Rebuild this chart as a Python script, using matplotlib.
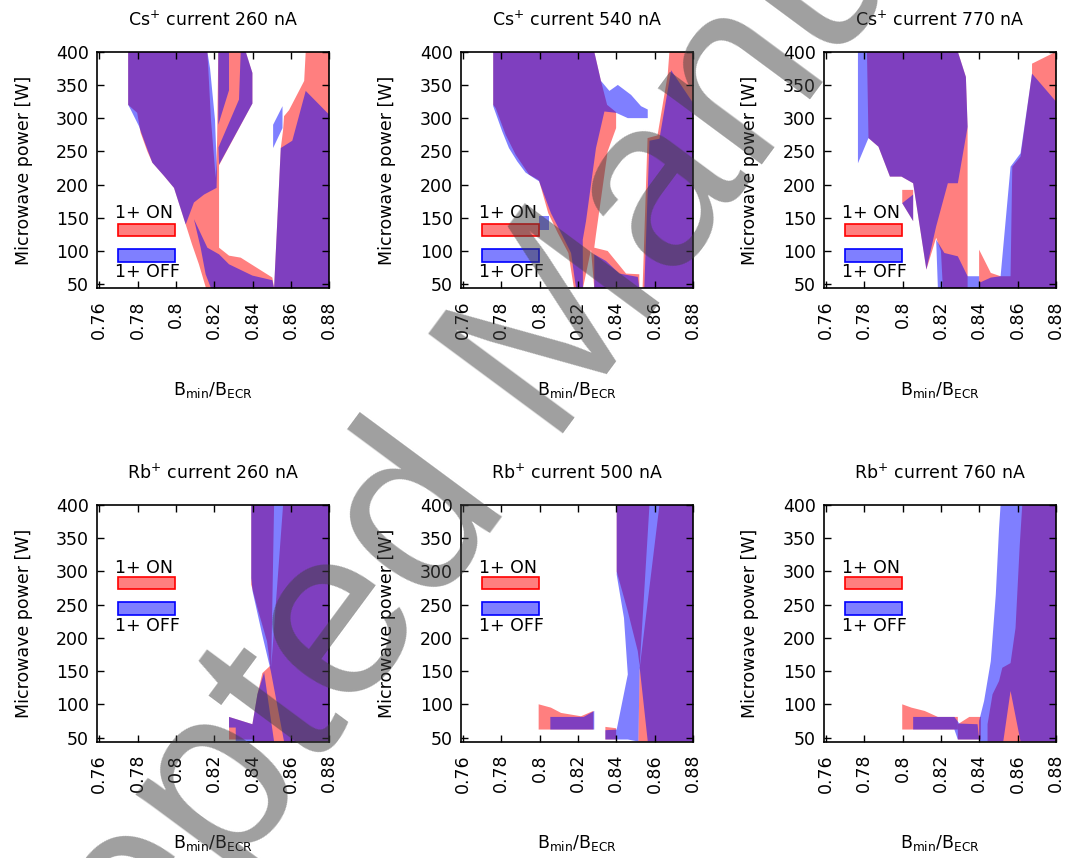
import matplotlib
matplotlib.use("Agg")
import matplotlib.pyplot as plt
from matplotlib.patches import Rectangle

# ---------------- data ----------------
x_ticks = [0.76, 0.78, 0.80, 0.82, 0.84, 0.86, 0.88]
x_tick_labels = ["0.76", "0.78", "0.8", "0.82", "0.84", "0.86", "0.88"]
y_ticks = [50, 100, 150, 200, 250, 300, 350, 400]

titles = ["Cs$^{+}$ current 260 nA", "Cs$^{+}$ current 540 nA", "Cs$^{+}$ current 770 nA",
          "Rb$^{+}$ current 260 nA", "Rb$^{+}$ current 500 nA", "Rb$^{+}$ current 760 nA"]

# each region: list of (B_min/B_ECR, microwave power [W]) vertices
cs260_on = [
    [(0.7751, 400), (0.8164, 400), (0.8183, 297), (0.8204, 222), (0.8209, 210), (0.8215, 268),
     (0.8221, 400), (0.8364, 400), (0.8399, 368), (0.8399, 322), (0.8225, 229), (0.8225, 105),
     (0.8277, 93), (0.8338, 90), (0.8503, 60), (0.8512, 44), (0.8157, 44), (0.8120, 80),
     (0.8084, 110), (0.8051, 140), (0.7990, 195), (0.7938, 213), (0.7877, 233), (0.7851, 250),
     (0.7816, 278), (0.7798, 308), (0.7751, 320)],
    [(0.8677, 400), (0.88, 400), (0.88, 44), (0.8512, 44), (0.8547, 255), (0.8559, 282),
     (0.8564, 303), (0.8590, 312), (0.8669, 356)],
]
cs260_off = [
    [(0.7751, 400), (0.8164, 400), (0.8178, 375), (0.8204, 297), (0.8214, 220), (0.8212, 195),
     (0.8147, 185), (0.8094, 173), (0.8059, 146), (0.8051, 140), (0.7990, 195), (0.7938, 213),
     (0.7877, 233), (0.7842, 260), (0.7807, 288), (0.7764, 313), (0.7751, 320)],
    [(0.8221, 400), (0.8277, 400), (0.8277, 342), (0.8221, 290)],
    [(0.8338, 400), (0.8364, 400), (0.8399, 368), (0.8399, 322), (0.8225, 230), (0.8222, 256),
     (0.8329, 328)],
    [(0.8094, 148), (0.8164, 105), (0.8225, 95), (0.8277, 80), (0.8399, 63), (0.8503, 56),
     (0.8512, 44), (0.8183, 44), (0.8155, 65), (0.8129, 105)],
    [(0.8512, 44), (0.8547, 255), (0.8607, 266), (0.8677, 341), (0.88, 305), (0.88, 44)],
    [(0.8507, 290), (0.8556, 318), (0.8556, 285), (0.8507, 255)],
]

cs540_on = [
    [(0.7758, 400), (0.8285, 400), (0.8320, 356), (0.8352, 320), (0.8399, 309), (0.8399, 285),
     (0.8355, 250), (0.8294, 125), (0.8285, 105), (0.8355, 100), (0.8451, 66), (0.8520, 65),
     (0.8520, 44), (0.8285, 44), (0.8268, 102), (0.8226, 44), (0.8179, 44), (0.8150, 97),
     (0.8095, 127), (0.8045, 157), (0.7997, 206), (0.7988, 208), (0.7945, 215), (0.7875, 245),
     (0.7823, 275), (0.7771, 315), (0.7758, 320)],
    [(0.8677, 400), (0.88, 400), (0.88, 44), (0.8537, 44), (0.8563, 270), (0.8615, 274),
     (0.8668, 365)],
]
cs540_off = [
    [(0.7758, 400), (0.8285, 400), (0.8320, 356), (0.8364, 341), (0.8408, 350), (0.8477, 335),
     (0.8529, 318), (0.8564, 313), (0.8564, 300), (0.8460, 300), (0.8399, 308), (0.8338, 310),
     (0.8294, 255), (0.8242, 145), (0.8225, 117), (0.8226, 44), (0.8190, 44), (0.8164, 97),
     (0.8112, 127), (0.8059, 157), (0.7997, 205), (0.7980, 208), (0.7927, 218), (0.7883, 235),
     (0.7840, 255), (0.7805, 280), (0.7758, 318)],
    [(0.8285, 95), (0.8346, 85), (0.8416, 66), (0.8512, 61), (0.8520, 44), (0.8285, 44)],
    [(0.7997, 152), (0.8049, 152), (0.8049, 132), (0.7997, 132)],
    [(0.8686, 372), (0.88, 323), (0.88, 44), (0.8546, 44), (0.8573, 266), (0.8625, 269)],
]

cs770_on = [
    [(0.7814, 400), (0.8288, 400), (0.8330, 362), (0.8339, 287), (0.8339, 44), (0.8210, 44),
     (0.8200, 100), (0.8175, 120), (0.8124, 72), (0.8055, 202), (0.7994, 212), (0.7934, 212),
     (0.7874, 257), (0.7822, 270)],
    [(0.7998, 192), (0.8055, 192), (0.8055, 145), (0.7998, 172)],
    [(0.8399, 102), (0.8460, 67), (0.8511, 62), (0.8563, 62), (0.8572, 227), (0.8615, 242),
     (0.8675, 367), (0.8675, 382), (0.88, 400), (0.88, 44), (0.8399, 44)],
]
cs770_off = [
    [(0.7767, 400), (0.8288, 400), (0.8330, 362), (0.8339, 287), (0.8288, 202), (0.8236, 202),
     (0.8175, 137), (0.8124, 72), (0.8055, 202), (0.7994, 212), (0.7934, 212), (0.7874, 257),
     (0.7822, 270), (0.7767, 232)],
    [(0.7998, 172), (0.8055, 185), (0.8055, 145)],
    [(0.8175, 117), (0.8218, 97), (0.8288, 92), (0.8339, 62), (0.8399, 62), (0.8399, 44),
     (0.8184, 44)],
    [(0.8399, 44), (0.8399, 52), (0.8460, 60), (0.8511, 62), (0.8563, 227), (0.8615, 247),
     (0.8675, 367), (0.88, 325), (0.88, 44)],
]

rb260_on = [
    [(0.8393, 400), (0.8512, 400), (0.8497, 156), (0.8559, 400), (0.88, 400), (0.88, 44),
     (0.8408, 44), (0.8399, 47), (0.8277, 47), (0.8277, 81), (0.8399, 70), (0.8425, 115),
     (0.8451, 147), (0.8492, 158), (0.8475, 195), (0.8425, 245), (0.8393, 280)],
]
rb260_off = [
    [(0.8393, 400), (0.88, 400), (0.88, 44), (0.8564, 44), (0.8495, 150), (0.8450, 205),
     (0.8400, 270), (0.8393, 290)],
    [(0.8512, 44), (0.8460, 148), (0.8425, 115), (0.8399, 70), (0.8277, 81), (0.8277, 65),
     (0.8312, 65), (0.8312, 44)],
]

rb500_on = [
    [(0.8402, 400), (0.8573, 400), (0.8522, 157), (0.8512, 180), (0.8460, 240), (0.8402, 300)],
    [(0.8625, 400), (0.88, 400), (0.88, 44), (0.8515, 44), (0.8522, 155)],
    [(0.7995, 100), (0.8059, 95), (0.8112, 87), (0.8216, 82), (0.8280, 90), (0.8280, 62),
     (0.7995, 62)],
    [(0.8343, 66), (0.8399, 64), (0.8399, 47), (0.8343, 47)],
]
rb500_off = [
    [(0.8402, 400), (0.88, 400), (0.88, 44), (0.8564, 44), (0.8522, 155), (0.8515, 44),
     (0.8460, 47), (0.8343, 47), (0.8343, 61), (0.8402, 62), (0.8460, 145), (0.8440, 230),
     (0.8402, 295)],
    [(0.8056, 81), (0.8230, 81), (0.8285, 90), (0.8285, 62), (0.8056, 62)],
]

rb760_on = [
    [(0.8624, 400), (0.88, 400), (0.88, 44), (0.8443, 44), (0.8443, 70), (0.8469, 115),
     (0.8503, 135), (0.8520, 155), (0.8563, 162), (0.8589, 215), (0.8611, 340)],
    [(0.7998, 100), (0.8046, 95), (0.8115, 90), (0.8184, 81), (0.8288, 81), (0.8288, 62),
     (0.7998, 62)],
    [(0.8288, 70), (0.8348, 81), (0.8408, 81), (0.8408, 47), (0.8288, 47)],
]
rb760_off = [
    [(0.8511, 400), (0.88, 400), (0.88, 44), (0.8615, 44), (0.8563, 120), (0.8525, 44),
     (0.8399, 44), (0.8399, 75), (0.8425, 105), (0.8460, 165), (0.8486, 265), (0.8503, 365)],
    [(0.8055, 81), (0.8270, 81), (0.8296, 71), (0.8391, 70), (0.8399, 47), (0.8288, 47),
     (0.8270, 62), (0.8055, 62)],
]

series_on = [cs260_on, cs540_on, cs770_on, rb260_on, rb500_on, rb760_on]
series_off = [cs260_off, cs540_off, cs770_off, rb260_off, rb500_off, rb760_off]
legend_labels = ["1+ ON", "1+ OFF"]

# ---------------- figure ----------------
W, H = 1068, 858
fig = plt.figure(figsize=(W / 100, H / 100), dpi=100)
col_left = [97.3, 461.0, 824.0]
row_top = [51.7, 505.0]
ax_w, ax_h = 232.0, 236.5
FS = 12.5

for i in range(6):
    r, c = divmod(i, 3)
    ax = fig.add_axes([col_left[c] / W, 1 - (row_top[r] + ax_h) / H, ax_w / W, ax_h / H])
    for poly in series_on[i]:
        xs, ys = zip(*poly)
        ax.fill(xs, ys, facecolor="#ff0000", alpha=0.5, edgecolor="none", lw=0)
    for poly in series_off[i]:
        xs, ys = zip(*poly)
        ax.fill(xs, ys, facecolor="#0000ff", alpha=0.5, edgecolor="none", lw=0)

    ax.set_xlim(0.759, 0.88)
    ax.set_ylim(44, 400)
    ax.set_xticks(x_ticks)
    ax.set_xticklabels(x_tick_labels, rotation=90, fontsize=FS)
    ax.set_yticks(y_ticks)
    ax.set_yticklabels([str(v) for v in y_ticks], fontsize=FS)
    ax.tick_params(direction="in", top=True, right=True, length=5, width=1.0)
    ax.tick_params(axis="x", pad=9)
    ax.tick_params(axis="y", pad=6)
    for sp in ax.spines.values():
        sp.set_linewidth(1.2)

    ax.text(0.5, 1.134, titles[i], transform=ax.transAxes, ha="center", va="center", fontsize=FS)
    ax.text(-0.318, 0.5, "Microwave power [W]", transform=ax.transAxes, rotation=90,
            ha="center", va="center", fontsize=FS)
    ax.text(0.5, -0.43, r"B$_{\rm min}$/B$_{\rm ECR}$", transform=ax.transAxes,
            ha="center", va="center", fontsize=FS)

    # legend (drawn like the gnuplot key)
    if r == 0:
        on_txt, on_box, off_box, off_txt = 0.317, 0.22, 0.11, 0.068
    else:
        on_txt, on_box, off_box, off_txt = 0.735, 0.643, 0.534, 0.487
    ax.add_patch(Rectangle((0.089, on_box), 0.246, 0.052, transform=ax.transAxes,
                           facecolor=(1, 0, 0, 0.5), edgecolor="#ff0000", lw=1.2))
    ax.add_patch(Rectangle((0.089, off_box), 0.246, 0.056, transform=ax.transAxes,
                           facecolor=(0, 0, 1, 0.5), edgecolor="#0000ff", lw=1.2))
    ax.text(0.077, on_txt, legend_labels[0], transform=ax.transAxes, ha="left",
            va="center", fontsize=FS)
    ax.text(0.077, off_txt, legend_labels[1], transform=ax.transAxes, ha="left",
            va="center", fontsize=FS)

# watermark
fig.text(0.50, 0.57, "Accepted Manuscript", rotation=53.5, ha="center", va="center",
         fontsize=175, family="Liberation Sans", color="#404040", alpha=0.5)

fig.savefig("out.png", dpi=100)
